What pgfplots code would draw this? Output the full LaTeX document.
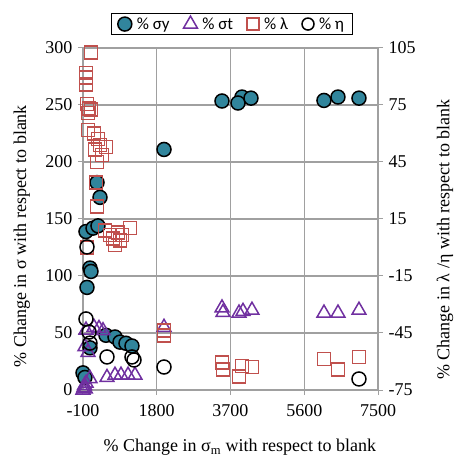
\documentclass[border=0pt]{standalone}
\usepackage{pgfplots}
\pgfplotsset{compat=1.18}
\usepackage{fontspec}
\setmainfont{Liberation Serif}
\newfontfamily\legfont{Carlito}
\definecolor{teal1}{HTML}{31859C}
\definecolor{purp}{HTML}{7030A0}
\definecolor{red1}{HTML}{C0504D}
\definecolor{gridg}{HTML}{A0A0A0}
\begin{document}
\begin{tikzpicture}
\useasboundingbox (-83pt,-70pt) rectangle (377pt,390pt);
\pgfplotsset{
  common/.style={
    scale only axis, width=295pt, height=342pt,
    at={(0pt,0pt)}, anchor=south west,
    xmin=-100, xmax=7500, clip=false,
    /pgf/number format/assume math mode=true,
    /pgf/number format/.cd, set thousands separator={}, /pgfplots/.cd,
    tick label style={font=\fontsize{18}{20}\selectfont},
    label style={font=\fontsize{18}{21}\selectfont},
    tick align=outside, major tick length=5pt,
    tick style={gridg, line width=1pt},
    axis line style={gridg, line width=1.2pt},
  }
}
\begin{axis}[common,
  ymin=0, ymax=300,
  xtick={-100,1800,3700,5600,7500},
  ytick={0,50,100,150,200,250,300},
  xtick pos=left, ytick pos=left,
  xticklabel style={yshift=-6pt},
  yticklabel style={xshift=-2pt},
  grid=major, grid style={gridg, line width=1.2pt},
  xlabel={\% Change in σ\textsubscript{m} with respect to blank},
  ylabel={\% Change in σ with respect to blank},
  xlabel style={at={(axis description cs:0.532,-0.167)}, anchor=center},
  ylabel style={at={(axis description cs:-0.207,0.45)}, anchor=center},
  legend columns=4,
  legend style={at={(axis description cs:0.505,1.102)}, anchor=north,
    font=\legfont\fontsize{17}{20}\selectfont, draw=black, line width=0.8pt,
    inner xsep=6pt, inner ysep=2pt,
    /tikz/every odd column/.style={column sep=3pt},
    /tikz/every even column/.style={column sep=12pt}},
  legend cell align=left,
]
\addplot[only marks, mark=*, mark size=7pt, mark options={fill=teal1, draw=black, line width=1.5pt}] coordinates {
(3481,253.5) (3996,257) (3893,251.75) (4228,256) (6108,254) (6469,257) (7010,256)
(1987,211) (261,182) (338,169) (-23,139) (158,142) (286,144) (80,107) (106,104) (3,90)
(492,48) (724,46.5) (853,42) (1008,41) (1162,38.6) (80,37) (-100,15) (-50,11)
};
\addlegendentry{\% σy}
\addplot[only marks, mark=triangle, mark size=8pt, mark options={draw=purp, line width=1.5pt, fill=none}] coordinates {
(-100,0) (-80,2) (-60,4) (-40,1) (-20,6) (80,10) (-23,52.6) (183,55) (312,54) (415,52)
(-50,38) (29,33) (518,11) (724,13) (879,13) (1060,13) (1240,13) (1987,55)
(3481,72) (3506,68) (3919,67.5) (4022,69) (4253,70) (6108,67.5) (6469,67.5) (7010,70)
};
\addlegendentry{\% σt}
\addlegendimage{only marks, mark=square, mark size=6pt, mark options={draw=red1, line width=1.5pt}}
\addlegendentry{\% λ}
\addlegendimage{only marks, mark=o, mark size=6pt, mark options={draw=black, line width=1.5pt}}
\addlegendentry{\% η}
\end{axis}
\begin{axis}[common,
  ymin=-75, ymax=105,
  ytick={-75,-45,-15,15,45,75,105},
  hide x axis, axis y line*=right,
  yticklabel style={xshift=2pt},
  ylabel={\% Change in λ /η with respect to blank},
  ylabel style={at={(axis description cs:1.227,0.44)}, anchor=center},
]
\addplot[only marks, mark=square, mark size=6.5pt, mark options={draw=red1, line width=1.5pt}] coordinates {
(106,102.6) (-23,91.8) (-23,89.4) (-23,85.8) (3,75.6) (55,73.2) (106,72.6) (29,70.8)
(29,61.8) (183,60) (286,57) (338,54) (492,52.8) (209,51.6) (389,48.6) (261,45)
(235,34.2) (261,21.6) (467,9) (596,6.6) (673,4.8) (802,7.8) (853,3.6) (905,6.6)
(1111,10.2) (724,1.2) (3,0) (1987,-43.8) (1987,-46.2)
(3481,-60.6) (3506,-64.2) (3919,-67.8) (3996,-62.4) (4253,-63)
(6108,-58.8) (6469,-64.2) (7010,-57.6)
};
\addplot[only marks, mark=o, mark size=7pt, mark options={draw=black, line width=1.5pt}] coordinates {
(3,0.3) (-23,-37.6) (55,-44.5) (80,-50.3) (518,-57.6) (1162,-57.6) (1214,-59.2)
(1987,-62.9) (7010,-69.2)
};
\end{axis}
\end{tikzpicture}
\end{document}
